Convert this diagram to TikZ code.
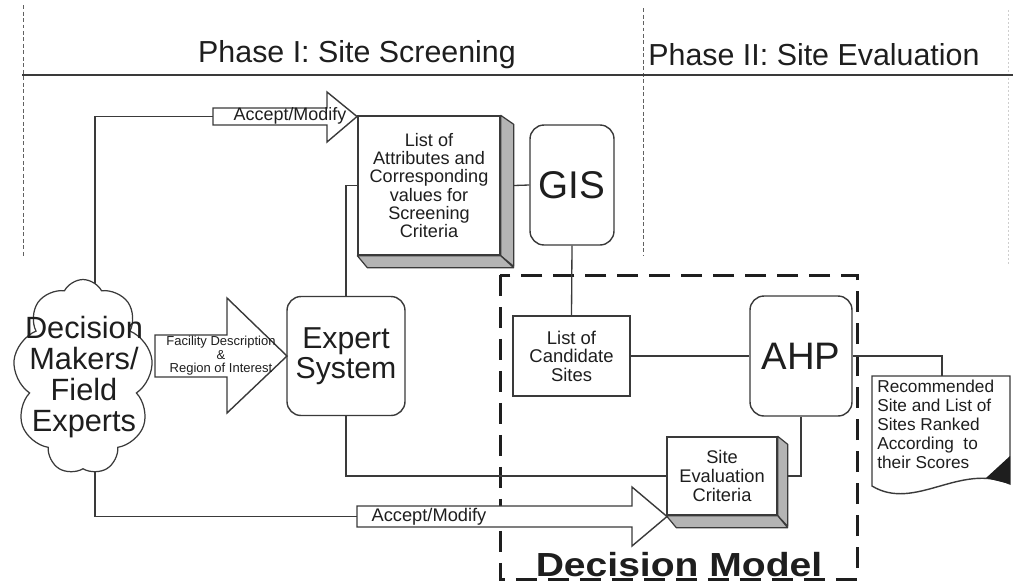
\documentclass[tikz,border=0pt]{standalone}
\usepackage{fontspec}
\setmainfont{Liberation Sans}
\usetikzlibrary{shapes.symbols,calc}
\definecolor{ln}{HTML}{3A3A3A}
\definecolor{tx}{HTML}{1E1E1E}
\definecolor{sidegray}{HTML}{B4B4B4}
\begin{document}
\begin{tikzpicture}[x=0.02cm,y=-0.02cm,
  conn/.style={draw=ln, line width=0.75pt},
  rbox/.style={draw=ln, line width=0.8pt, rounded corners=0.28cm, fill=white, text=tx, align=center, inner sep=0pt},
  sbox/.style={draw=ln, line width=0.8pt, fill=white, text=tx, align=center, inner sep=0pt},
  face/.style={draw=ln, line width=0.7pt, fill=sidegray, line join=round},
  bigarrow/.style={draw=ln, line width=0.8pt, fill=white, line join=miter},
  phasedash/.style={draw=ln!80, line width=0.55pt, dash pattern=on 0.08cm off 0.05cm},
  dmdash/.style={draw=tx, line width=1.7pt, dash pattern=on 0.42cm off 0.22cm},
  lbl/.style={text=tx, inner sep=0pt, align=center},
]
\useasboundingbox (0,0) rectangle (1013,582);

% phase header
\draw[phasedash] (23,5) -- (23,257);
\draw[phasedash] (643,8) -- (643,255);
\draw[draw=ln!25, line width=0.4pt, dash pattern=on 0.04cm off 0.04cm] (1008,10) -- (1008,265);
\draw[draw=ln, line width=1.3pt] (22,75) -- (1013,75);
\node[lbl, font=\fontsize{17.3}{20}\selectfont] (ph1) at (357,55) {Phase I: Site Screening};
\node[lbl, font=\fontsize{17.3}{20}\selectfont, anchor=west] (ph2) at (648,55) {Phase II: Site Evaluation};

% decision model frame
\draw[dmdash] (500,275) rectangle (857,579);
\node[lbl, anchor=base, font=\bfseries\fontsize{19}{22}\selectfont] (dmlabel) at (679,576) {\scalebox{1.17}[1]{Decision Model}};

% coordinates for arrow ends
\coordinate (acctail) at (213,116.5);
\coordinate (acctip) at (357,116.5);
\coordinate (bottail) at (357,516.5);
\coordinate (bottip) at (667,516.5);
\coordinate (factail) at (155,356);
\coordinate (factip) at (287,356);
\coordinate (doctop) at (942,376);

% nodes
\node[rbox, minimum width=2.36cm, minimum height=2.38cm, font=\fontsize{17.2}{17}\selectfont] (expert) at (346,356) {Expert\\System};
\node[rbox, minimum width=1.68cm, minimum height=2.4cm, font=\fontsize{22}{24}\selectfont] (gis) at (572,185) {GIS};
\node[rbox, minimum width=2.04cm, minimum height=2.4cm, font=\fontsize{21.8}{24}\selectfont] (ahp) at (801,356) {AHP};
\node[sbox, minimum width=2.34cm, minimum height=1.6cm, font=\fontsize{10.5}{10.5}\selectfont] (cand) at (571.5,356) {List of\\Candidate\\Sites};

% 3D box: attributes
\node[sbox, minimum width=2.84cm, minimum height=2.78cm, font=\fontsize{10.3}{10.45}\selectfont] (attr) at (429,185.5) {List of\\Attributes and\\Corresponding\\values for\\Screening\\Criteria};
\draw[face] (attr.north east) -- ++(13,9) -- ++(0,142) -- (attr.south east) -- cycle;
\draw[face] (attr.south west) -- (attr.south east) -- ++(13,12) -- ($(attr.south west)+(10,12)$) -- cycle;
\coordinate (attrside) at ($(attr.east)+(13,0)$);

% 3D box: site evaluation
\node[sbox, minimum width=2.2cm, minimum height=1.56cm, font=\fontsize{10.4}{10.8}\selectfont] (siteeval) at (722,476) {Site\\Evaluation\\Criteria};
\draw[face] (siteeval.north east) -- ++(10,8) -- ++(0,82) -- (siteeval.south east) -- cycle;
\draw[face] (siteeval.south west) -- (siteeval.south east) -- ++(10,12) -- ($(siteeval.south west)+(10,12)$) -- cycle;
\coordinate (seside) at ($(siteeval.east)+(10,0)$);

% connectors
\draw[conn] (expert.north) |- (attr.west);
\draw[conn] (expert.south) |- (siteeval.west);
\draw[conn] (attrside) -- (gis.west);
\draw[conn] (gis.south) -- (cand.north);
\draw[conn] (cand.east) -- (ahp.west);
\draw[conn] (ahp.east) -| (doctop);
\draw[conn] (ahp.south) |- (seside);

% cloud
\coordinate (cloudc) at (83,377);
\draw[conn] (acctail) -| ($(cloudc)+(12,0)$);
\draw[conn] (bottail) -| ($(cloudc)+(12,0)$);
\node[cloud, cloud puffs=9, cloud puff arc=125, cloud ignores aspect, minimum width=2.8cm, minimum height=3.9cm, draw=ln, line width=0.7pt, fill=white, inner sep=0pt] (cloud) at (cloudc) {};
\node[lbl, font=\fontsize{17.5}{17.6}\selectfont] (cloudtext) at (84,377) {Decision\\Makers/\\Field\\Experts};

% big arrows
\draw[bigarrow] (213,108) -- (327,108) -- (327,92) -- (acctip) -- (327,142) -- (327,125) -- (213,125) -- cycle;
\node[lbl, font=\fontsize{10.2}{11}\selectfont] (acclabel) at (290,116) {Accept/Modify};

\draw[bigarrow] (357,506) -- (632,506) -- (632,487) -- (bottip) -- (632,546) -- (632,527) -- (357,527) -- cycle;
\node[lbl, font=\fontsize{10.4}{11}\selectfont] (botlabel) at (429,517) {Accept/Modify};

\draw[bigarrow] (155,335) -- (227,335) -- (227,298) -- (factip) -- (227,413) -- (227,377) -- (155,377) -- cycle;
\node[lbl, font=\fontsize{7.4}{7.7}\selectfont] (faclabel) at (221,356) {Facility Description\\\&\\Region of Interest};

% document
\draw[draw=ln, line width=0.8pt, fill=white] (872,376) -- (1010,376) -- (1010,484) .. controls (960,462) and (915,512) .. (872,486) -- cycle;
\fill[tx] (986,478) -- (1010,456) -- (1010,484) -- cycle;
\node[lbl, anchor=north west, align=left, font=\fontsize{9.8}{10.8}\selectfont] (doctext) at (877,380) {Recommended\\Site and List of\\Sites Ranked\\According\ \ to\\their Scores};
\end{tikzpicture}
\end{document}
